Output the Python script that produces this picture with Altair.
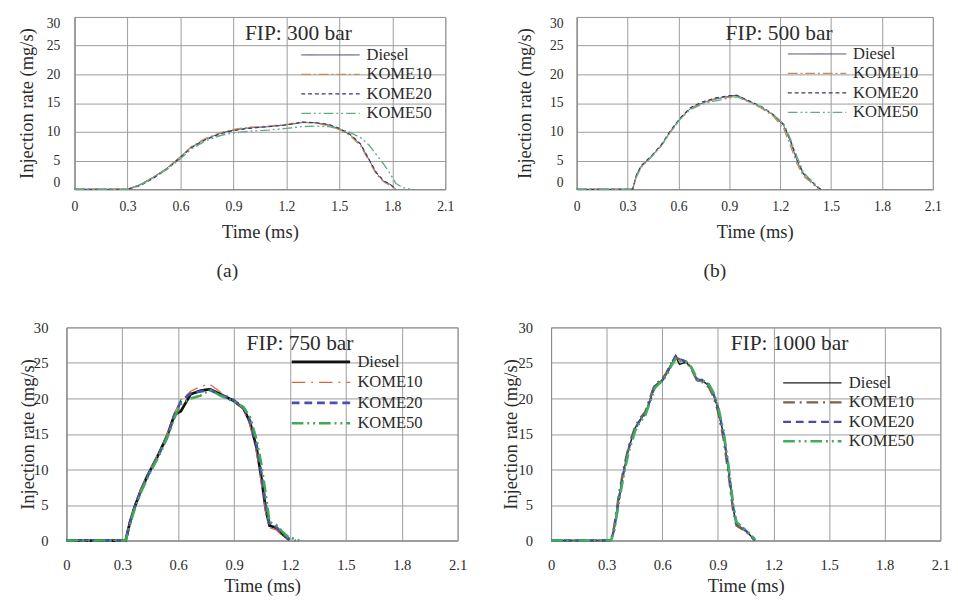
import altair as alt
import pandas as pd

FUELS = ["Diesel", "KOME10", "KOME20", "KOME50"]
X_TICKS = [0, 0.3, 0.6, 0.9, 1.2, 1.5, 1.8, 2.1]
Y_TICKS = [0, 5, 10, 15, 20, 25, 30]
TITLES = ["FIP: 300 bar", "FIP: 500 bar", "FIP: 750 bar", "FIP: 1000 bar"]
SUBLABELS = ["(a)", "(b)"]

# (a) FIP 300 bar
t_a = [0, 0.1, 0.2, 0.3, 0.37, 0.44, 0.52, 0.6, 0.66, 0.74, 0.83, 0.9, 0.99, 1.1, 1.2, 1.29,
       1.36, 1.44, 1.5, 1.56, 1.62, 1.67, 1.71, 1.75, 1.79, 1.82, 1.86, 1.9]
diesel_a = [0, 0, 0, 0, 0.8, 2.0, 3.6, 5.7, 7.3, 8.7, 9.8, 10.3, 10.7, 10.9, 11.2, 11.6,
            11.6, 11.2, 10.5, 9.5, 7.8, 5.0, 2.8, 1.4, 0.8, 0.0, None, None]
kome10_a = [0, 0, 0, 0, 0.7, 1.9, 3.5, 5.6, 7.4, 8.8, 9.9, 10.4, 10.8, 11.0, 11.3, 11.7,
            11.5, 11.1, 10.4, 9.4, 7.6, 4.8, 2.6, 1.3, 0.6, 0.0, None, None]
kome20_a = [0, 0, 0, 0, 0.6, 1.8, 3.4, 5.5, 7.2, 8.6, 9.7, 10.2, 10.6, 10.9, 11.2, 11.7,
            11.6, 11.3, 10.6, 9.6, 7.9, 5.1, 2.9, 1.5, 0.8, 0.1, None, None]
kome50_a = [0, 0, 0, 0, 0.7, 1.9, 3.4, 5.3, 7.0, 8.4, 9.4, 9.8, 10.1, 10.3, 10.6, 10.9,
            11.0, 10.9, 10.5, 9.9, 9.0, 7.6, 6.0, 4.4, 2.6, 1.0, 0.3, 0.0]

# (b) FIP 500 bar
t_b = [0, 0.1, 0.2, 0.33, 0.353, 0.38, 0.44, 0.5, 0.55, 0.61, 0.67, 0.74, 0.82, 0.9, 0.945,
       1.01, 1.09, 1.16, 1.22, 1.26, 1.3, 1.336, 1.37, 1.42, 1.44]
diesel_b = [0, 0, 0, 0, 2.6, 4.0, 5.7, 7.7, 10.0, 12.3, 14.0, 15.0, 15.7, 16.2, 16.4,
            15.4, 14.3, 12.9, 11.1, 8.3, 4.9, 2.6, 1.7, 0.3, 0.0]
kome10_b = [0, 0, 0, 0, 2.4, 3.9, 5.6, 7.6, 9.8, 12.2, 14.1, 15.1, 15.8, 16.0, 16.2,
            15.3, 14.1, 12.7, 10.6, 7.6, 4.4, 2.3, 1.5, 0.1, None]
kome20_b = [0, 0, 0, 0, 2.5, 4.1, 5.8, 7.8, 10.1, 12.4, 14.2, 15.2, 15.9, 16.3, 16.3,
            15.5, 14.4, 13.0, 11.3, 8.6, 5.2, 2.8, 1.8, 0.4, 0.0]
kome50_b = [0, 0, 0, 0, 2.2, 3.8, 5.6, 7.6, 9.9, 12.2, 13.9, 14.8, 15.4, 15.9, 16.1,
            15.3, 14.3, 13.0, 11.4, 8.8, 5.6, 3.0, 1.9, 0.5, 0.0]

# (c) FIP 750 bar
t_c = [0, 0.1, 0.2, 0.318, 0.34, 0.367, 0.4, 0.44, 0.49, 0.54, 0.58, 0.614, 0.667, 0.72,
       0.77, 0.826, 0.896, 0.95, 0.985, 1.02, 1.046, 1.07, 1.09, 1.126, 1.16, 1.196, 1.23, 1.25]
diesel_c = [0, 0, 0, 0, 2.5, 4.8, 7.1, 9.4, 11.9, 14.7, 17.7, 18.2, 20.6, 21.1,
            21.3, 20.6, 19.7, 18.6, 16.7, 13.1, 8.9, 4.4, 2.1, 1.8, 0.9, 0.1, None, None]
kome10_c = [0, 0, 0, 0, 2.6, 4.9, 7.3, 9.6, 12.1, 15.0, 18.0, 19.8, 21.0, 21.7,
            22.0, 20.9, 19.9, 18.4, 16.2, 12.4, 8.0, 3.8, 1.8, 1.5, 0.6, 0.0, None, None]
kome20_c = [0, 0, 0, 0, 2.4, 4.7, 7.0, 9.3, 11.8, 14.6, 17.6, 19.6, 20.7, 21.0,
            21.2, 20.5, 19.8, 18.7, 16.9, 13.5, 9.5, 5.0, 2.4, 1.9, 1.0, 0.2, 0.0, None]
kome50_c = [0, 0, 0, 0, 2.2, 4.5, 6.8, 9.1, 11.6, 14.4, 17.3, 19.2, 20.0, 20.4,
            21.2, 20.4, 19.6, 18.8, 17.4, 14.3, 10.8, 6.5, 2.6, 2.2, 1.2, 0.4, 0.2, 0.0]

# (d) FIP 1000 bar
t_d = [0, 0.1, 0.2, 0.323, 0.34, 0.367, 0.393, 0.42, 0.455, 0.48, 0.508, 0.534, 0.56, 0.596,
       0.622, 0.649, 0.672, 0.693, 0.728, 0.754, 0.79, 0.816, 0.851, 0.877, 0.9, 0.93, 0.957,
       0.983, 1.0, 1.036, 1.062, 1.1]
diesel_d = [0, 0, 0, 0, 1.6, 6.2, 9.9, 13.1, 15.9, 17.0, 17.9, 19.8, 21.8, 22.5,
            23.4, 24.8, 25.9, 24.8, 25.1, 24.4, 22.5, 22.5, 21.8, 20.5, 18.6, 14.9, 9.9,
            4.4, 2.3, 1.6, 1.1, 0.0]
kome10_d = [0, 0, 0, 0, 1.9, 6.6, 10.3, 13.4, 16.1, 17.2, 18.1, 20.1, 22.0, 22.6,
            23.6, 25.0, 25.8, 25.5, 25.2, 24.3, 22.4, 22.3, 21.6, 20.2, 18.2, 14.4, 9.4,
            4.0, 2.1, 1.5, 1.0, 0.0]
kome20_d = [0, 0, 0, 0, 1.5, 6.0, 9.8, 13.0, 15.8, 16.9, 17.8, 19.7, 21.7, 22.4,
            23.3, 24.9, 26.0, 25.5, 25.2, 24.5, 22.6, 22.6, 21.9, 20.6, 18.8, 15.1, 10.2,
            4.6, 2.4, 1.7, 1.1, 0.1]
kome50_d = [0, 0, 0, 0, 1.2, 5.6, 9.3, 12.6, 15.5, 16.7, 17.6, 19.5, 21.5, 22.4,
            23.2, 24.6, 25.6, 25.3, 25.1, 24.5, 22.7, 22.6, 22.0, 20.8, 19.0, 15.5, 10.6,
            5.0, 2.6, 1.8, 1.2, 0.2]

FONT = "Liberation Serif"
TXT = "#2b2b2b"


def long_frame(t, series):
    rows = []
    for name, vals in zip(FUELS, series):
        for ti, v in zip(t, vals):
            if v is not None:
                rows.append({"t": ti, "rate": v, "fuel": name})
    return pd.DataFrame(rows)


def panel(t, series, title, colors, dashes, widths, w, h, legend_xy, row_h,
          title_xy, tick_size, lab_pad_y, y_title_x, lab_pad_x, ttl_pad_x,
          left_space, flush_y, sub=None, sub_xy=None):
    df = long_frame(t, series)
    leg = alt.Legend(title=None, orient="none", legendX=legend_xy[0], legendY=legend_xy[1],
                     symbolType="stroke", symbolSize=3600, clipHeight=row_h, rowPadding=0,
                     labelFont=FONT, labelFontSize=17, labelColor=TXT, labelOffset=6,
                     padding=0)
    lines = alt.Chart(df).mark_line().encode(
        x=alt.X("t:Q", scale=alt.Scale(domain=[0, 2.1], nice=False, zero=False),
                axis=alt.Axis(values=X_TICKS, format=".1~f", title="Time (ms)",
                              ticks=False, tickSize=0, labelPadding=lab_pad_x,
                              labelFlush=False, titlePadding=ttl_pad_x,
                              labelFontSize=tick_size)),
        y=alt.Y("rate:Q", scale=alt.Scale(domain=[0, 30], nice=False),
                axis=alt.Axis(values=Y_TICKS, title="Injection rate (mg/s)",
                              ticks=False, tickSize=0, labelPadding=lab_pad_y,
                              labelFlush=flush_y, titleX=y_title_x, titleY=h / 2,
                              titleAngle=270, titleBaseline="bottom", titleAlign="center",
                              labelFontSize=tick_size)),
        color=alt.Color("fuel:N", scale=alt.Scale(domain=FUELS, range=colors), legend=leg),
        strokeDash=alt.StrokeDash("fuel:N", scale=alt.Scale(domain=FUELS, range=dashes),
                                  legend=leg),
        strokeWidth=alt.StrokeWidth("fuel:N", scale=alt.Scale(type="ordinal", domain=FUELS,
                                                               range=widths),
                                    legend=leg),
    )
    ttl = alt.Chart(pd.DataFrame({"s": [title]})).mark_text(
        font=FONT, fontSize=22, color=TXT, align="center", baseline="middle"
    ).encode(text="s:N", x=alt.value(title_xy[0]), y=alt.value(title_xy[1]))
    # invisible spacer that fixes the left edge of the panel block
    spacer = alt.Chart(pd.DataFrame({"s": [""]})).mark_rule(strokeOpacity=0).encode(
        x=alt.value(-left_space), x2=alt.value(-left_space + 1), y=alt.value(h / 2)
    )
    layers = [lines, ttl, spacer]
    if sub is not None:
        s = alt.Chart(pd.DataFrame({"s": [sub]})).mark_text(
            font=FONT, fontSize=20, color=TXT, align="center", baseline="middle"
        ).encode(text="s:N", x=alt.value(sub_xy[0]), y=alt.value(sub_xy[1]))
        layers.append(s)
    return alt.layer(*layers).properties(width=w, height=h)


DASHES = [[1, 0], [10, 3, 2, 3], [4, 3], [10, 3, 2, 3, 2, 3]]
thin_colors = ["#3b3f63", "#c98a5e", "#343a6e", "#5fae86"]
thin_widths = [1.0, 1.4, 1.2, 1.4]

pa = panel(t_a, [diesel_a, kome10_a, kome20_a, kome50_a], TITLES[0], thin_colors, DASHES,
           thin_widths, 381, 177, (232, 29), 20, (230, 17), 14, 15, -39, 11, 10, 67, True,
           SUBLABELS[0], (157, 84 + 177))
pb = panel(t_b, [diesel_b, kome10_b, kome20_b, kome50_b], TITLES[1], thin_colors, DASHES,
           thin_widths, 366, 177, (216, 28), 20, (208, 17), 14, 14, -43, 11, 10, 104, True,
           SUBLABELS[1], (142, 84 + 177))
pc = panel(t_c, [diesel_c, kome10_c, kome20_c, kome50_c], TITLES[2],
           ["#111111", "#d8683f", "#4b4fae", "#3daa55"],
           [[1, 0], [14, 6, 2, 6], [8, 5], [12, 4, 2, 4, 2, 4]],
           [2.8, 1.2, 2.8, 2.6], 402, 219, (230, 25), 21, (240, 16), 15, 19, -30, 18, 4, 49,
           False)
pd_ = panel(t_d, [diesel_d, kome10_d, kome20_d, kome50_d], TITLES[3],
            ["#1a1a1a", "#7e5f48", "#4a4aa8", "#3fae60"],
            [[1, 0], [12, 5, 2, 5], [8, 5], [12, 4, 2, 4, 2, 4]],
            [1.5, 2.4, 2.4, 2.6], 400, 219, (237, 47), 20, (245, 16), 15, 19, -32, 18, 4, 65,
            False)

res = dict(color="independent", strokeDash="independent", strokeWidth="independent")
top = alt.hconcat(pa, pb, spacing=20).resolve_scale(**res).resolve_legend(**res)
bottom = alt.hconcat(pc, pd_, spacing=20).resolve_scale(**res).resolve_legend(**res)
chart = alt.vconcat(top, bottom, spacing=39, center=True)
chart = chart.resolve_scale(**res).resolve_legend(**res)

chart = chart.properties(padding=0).configure(
    font=FONT, background="white"
).configure_view(stroke="#8a8a8a", strokeWidth=1).configure_axis(
    labelFont=FONT, labelColor=TXT, titleFont=FONT, titleFontSize=19, titleFontWeight="normal",
    titleColor=TXT, gridColor="#9a9a9a", gridWidth=1, domainColor="#8a8a8a", gridOpacity=1
)

chart.save("out.html", embed_options={"renderer": "svg", "actions": False})
